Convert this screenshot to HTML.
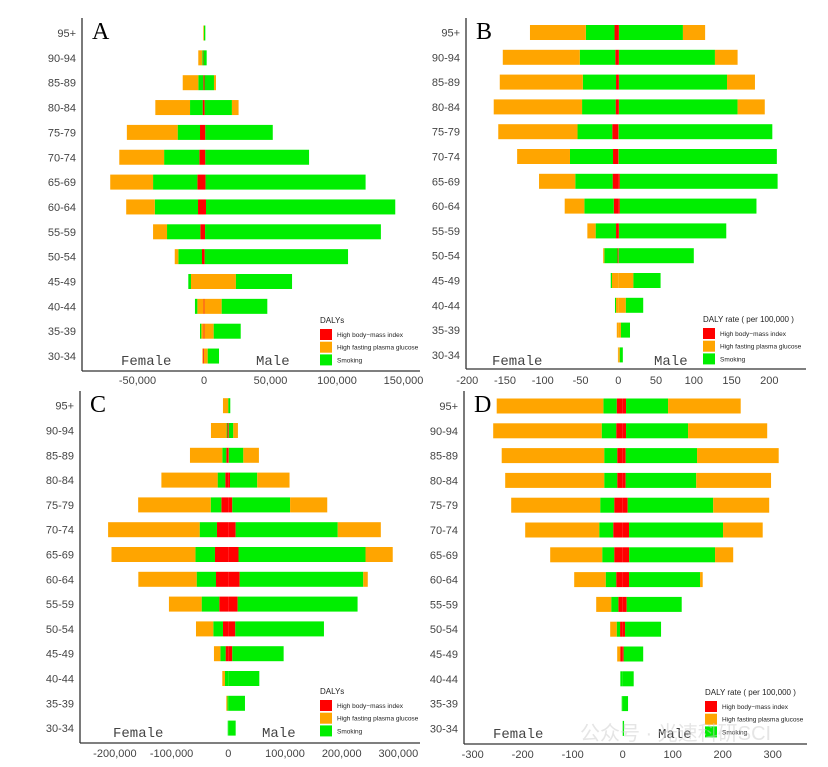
<!DOCTYPE html>
<html><head><meta charset="utf-8"><style>
html,body{margin:0;padding:0;background:#fff}
svg{display:block}
text{font-family:"Liberation Sans",sans-serif}
</style></head><body>
<svg id="chart" width="828" height="767" viewBox="0 0 828 767" xmlns="http://www.w3.org/2000/svg">
<rect width="828" height="767" fill="#fff"/>
</svg>
<script>
const ageGroups = ["95+","90-94","85-89","80-84","75-79","70-74","65-69","60-64","55-59","50-54","45-49","40-44","35-39","30-34"];
// Panel A (DALYs)
const aFemaleBMI = [0,300,500,1000,3000,3500,5000,4500,2800,1500,0,300,300,600];
const aFemaleSmoking = [0,1000,3800,9500,16800,26500,33300,32500,25000,17800,2000,1800,1000,0];
const aFemaleGlucose = [500,3000,11700,26100,38200,33700,32200,21500,10500,2700,9800,4700,1700,600];
const aMaleBMI = [0,0,400,500,1000,1000,1200,1500,800,500,0,300,300,0];
const aMaleSmoking = [1000,2000,7100,20500,50700,78000,120300,142300,132200,107800,42200,34300,20300,8500];
const aMaleGlucose = [0,0,1500,5000,0,0,0,0,0,0,24000,13000,7000,2800];
const aGlucoseInner = [0,0,0,0,0,0,0,0,0,0,1,1,1,1];
const aTicks = [-50000,0,50000,100000,150000];
const aTickLabels = ["-50,000","0","50,000","100,000","150,000"];
// Panel B (DALY rate)
const bFemaleBMI = [5,4,3,3.5,8,7,7.5,6,3,1,0,0,0,0];
const bFemaleSmoking = [38,47,44,44.5,46,57,49.5,39,27,17.5,1.6,1.4,0,0];
const bFemaleGlucose = [74,102,110,117,105,70,48,26,11,1.5,8.4,3,2,0.5];
const bMaleBMI = [1,1,1,1,0.5,0.5,2,2,1,0.5,0,0,0,0];
const bMaleSmoking = [84.6,127,143,157,203.5,209.5,209,181,142,99.5,36,23,12,4];
const bMaleGlucose = [29.4,30,37,36,0,0,0,0,0,0,20,10,3.5,2];
const bGlucoseInner = [0,0,0,0,0,0,0,0,0,0,1,1,1,1];
const bTicks = [-200,-150,-100,-50,0,50,100,150,200];
const bTickLabels = ["-200","-150","-100","-50","0","50","100","150","200"];
// Panel C (DALYs)
const cFemaleBMI = [0,1500,3500,5300,12300,20000,23500,21700,15900,9400,4700,0,0,0];
const cFemaleSmoking = [0,1500,7100,13500,18700,30500,34500,34100,31100,17100,9300,5900,1500,1000];
const cFemaleGlucose = [9400,27600,57000,99200,128000,161500,148000,102900,57700,30500,11300,4700,2000,0];
const cMaleBMI = [0,1000,1000,3000,7000,13000,18000,20000,16500,12300,7000,0,0,0];
const cMaleSmoking = [3500,7800,25500,48000,102000,180000,224000,218000,211500,156400,90600,54700,29400,13000];
const cMaleGlucose = [0,8200,27500,57000,65500,76000,48000,8000,0,0,0,0,0,0];
const cGlucoseInner = [0,0,0,0,0,0,0,0,0,0,0,0,0,0];
const cTicks = [-200000,-100000,0,100000,200000,300000];
const cTickLabels = ["-200,000","-100,000","0","100,000","200,000","300,000"];
// Panel D (DALY rate)
const dFemaleBMI = [12,13,11,11,17,19,17,13,8.7,5.3,5,0,0,0];
const dFemaleSmoking = [26.7,29,26,26,28,28,24,21,14.3,6.7,0,4.7,2,0];
const dFemaleGlucose = [213.3,217,205,198,178,148,104,63,30,13,6,0,0,0];
const dMaleBMI = [6.7,6.7,6,6,10,12.7,13,12.7,8,4.7,2,0,0,0];
const dMaleSmoking = [84,124,142.7,141,171,188,171.7,142,110,72,39,22,10.7,2.7];
const dMaleGlucose = [145.3,158.3,163.3,149.7,112,79.3,36.3,5.3,0,0,0,0,0,0];
const dGlucoseInner = [0,0,0,0,0,0,0,0,0,0,0,0,0,0];
const dTicks = [-300,-200,-100,0,100,200,300];
const dTickLabels = ["-300","-200","-100","0","100","200","300"];

const RED="#ff0000", ORANGE="#ffa500", GREEN="#00ee00";
const svg=document.getElementById('chart');
const NS="http://www.w3.org/2000/svg";
function mk(tag,attrs,parent){const e=document.createElementNS(NS,tag);for(const k in attrs)e.setAttribute(k,attrs[k]);(parent||svg).appendChild(e);return e;}

const panels=[
 {id:'a',letter:'A',zeroX:204,ppu:66.5/50000,axisX:82,axisY:371,right:420,top:18,row0:33,step:24.85,tickY:384,
  fb:aFemaleBMI,fs:aFemaleSmoking,fg:aFemaleGlucose,mb:aMaleBMI,ms:aMaleSmoking,mg:aMaleGlucose,inner:aGlucoseInner,ticks:aTicks,tl:aTickLabels,
  legendTitle:'DALYs',lx:320,ly:323,femX:121,maleX:256,textY:365},
 {id:'b',letter:'B',zeroX:618.3,ppu:0.755,axisX:466,axisY:369,right:806,top:18,row0:32.5,step:24.8,tickY:384,
  fb:bFemaleBMI,fs:bFemaleSmoking,fg:bFemaleGlucose,mb:bMaleBMI,ms:bMaleSmoking,mg:bMaleGlucose,inner:bGlucoseInner,ticks:bTicks,tl:bTickLabels,
  legendTitle:'DALY rate ( per 100,000 )',lx:703,ly:322,femX:492,maleX:654,textY:365},
 {id:'c',letter:'C',zeroX:228.3,ppu:56.7/100000,axisX:80,axisY:743,right:420,top:391,row0:405.7,step:24.8,tickY:757,
  fb:cFemaleBMI,fs:cFemaleSmoking,fg:cFemaleGlucose,mb:cMaleBMI,ms:cMaleSmoking,mg:cMaleGlucose,inner:cGlucoseInner,ticks:cTicks,tl:cTickLabels,
  legendTitle:'DALYs',lx:320,ly:694,femX:113,maleX:262,textY:737},
 {id:'d',letter:'D',zeroX:622.7,ppu:0.5,axisX:464,axisY:744,right:807,top:391,row0:406,step:24.8,tickY:758,
  fb:dFemaleBMI,fs:dFemaleSmoking,fg:dFemaleGlucose,mb:dMaleBMI,ms:dMaleSmoking,mg:dMaleGlucose,inner:dGlucoseInner,ticks:dTicks,tl:dTickLabels,
  legendTitle:'DALY rate ( per 100,000 )',lx:705,ly:695,femX:493,maleX:658,textY:738}
];

panels.forEach(p=>{
  const g=mk('g',{});
  
  
  const x=v=>p.zeroX+v*p.ppu;
  const bh=15;
  ageGroups.forEach((age,i)=>{
    const cy=p.row0+i*p.step;
    const yl=mk('text',{x:p.axisX-6,y:cy+4,'text-anchor':'end','font-size':11,fill:'#444'},g);
    yl.textContent=age;
    
    
    [[-1,p.fb[i],p.fs[i],p.fg[i]],[1,p.mb[i],p.ms[i],p.mg[i]]].forEach(([sgn,b,s,gl])=>{
      const segs=p.inner[i]?[[b,RED,'bmi'],[gl,ORANGE,'glucose'],[s,GREEN,'smoking']]:[[b,RED,'bmi'],[s,GREEN,'smoking'],[gl,ORANGE,'glucose']];
      let cum=0;
      segs.forEach(([v,col,nm])=>{
        if(v<=0)return;
        const x1=x(sgn*cum),x2=x(sgn*(cum+v));
        const r=mk('rect',{x:Math.min(x1,x2),y:cy-bh/2,width:Math.abs(x2-x1),height:bh,fill:col},g);
        
        
        cum+=v;
      });
    });
  });
  const ya=mk('line',{x1:p.axisX,y1:p.top,x2:p.axisX,y2:p.axisY,stroke:'#333','stroke-width':1.3},g);
  
  
  const xa=mk('line',{x1:p.axisX,y1:p.axisY,x2:p.right,y2:p.axisY,stroke:'#333','stroke-width':1.3},g);
  
  
  p.ticks.forEach((t,k)=>{
    const tx=mk('text',{x:x(t),y:p.tickY,'text-anchor':'middle','font-size':11,fill:'#444'},g);
    tx.textContent=p.tl[k];
    
    
  });
  const L=mk('text',{x:p.axisX+10,y:p.top+21,'font-size':24,fill:'#000',style:'font-family:"Liberation Serif",serif'},g);
  L.textContent=p.letter;
  
  
  const f=mk('text',{x:p.femX,y:p.textY,'font-size':14,fill:'#444',style:'font-family:"Liberation Mono",monospace'},g);
  f.textContent='Female';
  
  
  const m=mk('text',{x:p.maleX,y:p.textY,'font-size':14,fill:'#444',style:'font-family:"Liberation Mono",monospace'},g);
  m.textContent='Male';
  
  
  const lg=mk('g',{},g);
  
  
  const lt=mk('text',{x:p.lx,y:p.ly,'font-size':8,fill:'#222'},lg);
  lt.textContent=p.legendTitle;
  [[RED,'High body−mass index'],[ORANGE,'High fasting plasma glucose'],[GREEN,'Smoking']].forEach(([c,t],k)=>{
    const yy=p.ly+6+k*12.7;
    const sw=mk('rect',{x:p.lx,y:yy,width:12,height:11,fill:c},lg);
    
    
    const tt=mk('text',{x:p.lx+17,y:yy+8,'font-size':6.5,fill:'#222'},lg);
    tt.textContent=t;
    
    
  });
});
const wm=mk('text',{x:580,y:740,'font-size':20,fill:'#ccc','fill-opacity':0.5,style:'font-family:"Liberation Sans","Noto Sans CJK SC",sans-serif'});
wm.textContent='公众号 · 光速科研SCI';


</script>
</body></html>
